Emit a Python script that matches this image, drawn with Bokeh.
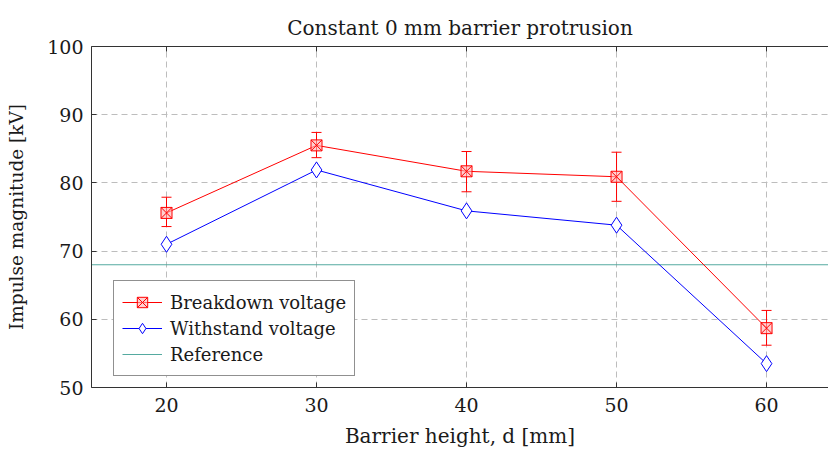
from bokeh.plotting import figure
from bokeh.models import (Range1d, LinearAxis, FixedTicker, Legend, LegendItem,
                          Whisker, ColumnDataSource)
from bokeh.embed import file_html
from bokeh.resources import INLINE

heights = [20, 30, 40, 50, 60]
breakdown = [75.6, 85.5, 81.7, 80.9, 58.7]
breakdown_upper = [77.9, 87.4, 84.6, 84.5, 61.3]
breakdown_lower = [73.6, 83.7, 78.7, 77.3, 56.2]
withstand = [71.0, 81.9, 75.9, 73.8, 53.5]
reference = 68.0
x_ticks = [20, 30, 40, 50, 60]
y_ticks = [50, 60, 70, 80, 90, 100]

FONT = "DejaVu Serif"
TXT = "#1a1a1a"
X0, X1 = 15, 64.13

p = figure(frame_width=737, frame_height=341, output_backend="svg", toolbar_location=None,
           x_range=Range1d(X0, X1), y_range=Range1d(50, 100),
           min_border_left=91, min_border_right=0, min_border_top=46, min_border_bottom=62,
           title="Constant 0 mm barrier protrusion",
           x_axis_label="Barrier height, d [mm]", y_axis_label="Impulse magnitude [kV]")
p.outline_line_color = None

p.title.align = "center"
p.title.text_font = FONT
p.title.text_font_size = "20px"
p.title.text_font_style = "normal"
p.title.text_color = TXT
p.title.standoff = 14

p.xaxis.axis_label_text_font = FONT
p.xaxis.axis_label_text_font_size = "20px"
p.xaxis.axis_label_text_font_style = "normal"
p.xaxis.axis_label_text_color = TXT
p.yaxis.axis_label_text_font = FONT
p.yaxis.axis_label_text_font_size = "18.5px"
p.yaxis.axis_label_text_font_style = "normal"
p.yaxis.axis_label_text_color = TXT
p.xaxis.major_label_text_font = FONT
p.xaxis.major_label_text_font_size = "19px"
p.xaxis.major_label_text_color = TXT
p.yaxis.major_label_text_font = FONT
p.yaxis.major_label_text_font_size = "19px"
p.yaxis.major_label_text_color = TXT
p.xaxis.ticker = FixedTicker(ticks=x_ticks)
p.yaxis.ticker = FixedTicker(ticks=y_ticks)
p.xaxis.major_label_standoff = 10
p.yaxis.major_label_standoff = 8
p.xaxis.axis_label_standoff = 9
p.yaxis.axis_label_standoff = 17
for ax in [p.xaxis, p.yaxis]:
    ax.major_tick_in = 5
    ax.major_tick_out = 0
    ax.minor_tick_in = 0
    ax.minor_tick_out = 0
    ax.axis_line_color = "#333333"
    ax.major_tick_line_color = "#333333"

top = LinearAxis(ticker=FixedTicker(ticks=x_ticks),
                 major_tick_in=5, major_tick_out=0, minor_tick_in=0, minor_tick_out=0,
                 axis_line_color="#333333", major_tick_line_color="#333333",
                 major_label_text_color=None, major_label_text_font_size="1px",
                 major_label_standoff=0)
p.add_layout(top, "above")

p.xgrid.ticker = FixedTicker(ticks=x_ticks)
p.ygrid.ticker = FixedTicker(ticks=y_ticks)
p.grid.grid_line_color = "#bdbdbd"
p.grid.grid_line_dash = "6 4"
p.grid.grid_line_width = 1

src = ColumnDataSource(dict(x=heights, b=breakdown, up=breakdown_upper,
                            lo=breakdown_lower, w=withstand))

ref_line = p.line(x=[X0, X1], y=[reference, reference], line_color="#55aaa0", line_width=1.2)

r_b_line = p.line("x", "b", source=src, line_color="#ff0000", line_width=1)
wh = Whisker(base="x", upper="up", lower="lo", source=src, line_color="#ff0000",
             line_width=1)
wh.upper_head.line_color = "#ff0000"
wh.lower_head.line_color = "#ff0000"
wh.upper_head.size = 10
wh.lower_head.size = 10
p.add_layout(wh)
r_b_mark = p.scatter("x", "b", source=src, marker="square_x", size=11, fill_color="#ffb3b3",
                     fill_alpha=0.6, line_color="#ff0000", line_width=1)

r_w_line = p.line("x", "w", source=src, line_color="#0000ff", line_width=1)
r_w_mark = p.scatter("x", "w", source=src, marker="diamond", size=16, fill_color="white",
                     line_color="#0000ff", line_width=1)

legend = Legend(items=[
    LegendItem(label="Breakdown voltage", renderers=[r_b_line, r_b_mark]),
    LegendItem(label="Withstand voltage", renderers=[r_w_line, r_w_mark]),
    LegendItem(label="Reference", renderers=[ref_line]),
], location=(22, 11))
legend.label_text_font = FONT
legend.label_text_font_size = "18px"
legend.label_text_font_style = "normal"
legend.label_text_color = TXT
legend.border_line_color = "#222222"
legend.border_line_width = 1
legend.glyph_width = 40
legend.spacing = 0
legend.padding = 8
legend.margin = 0
legend.label_standoff = 8
legend.label_height = 26
legend.glyph_height = 26
legend.background_fill_alpha = 1
p.add_layout(legend, "center")

open("out.html", "w").write(file_html(p, INLINE))
